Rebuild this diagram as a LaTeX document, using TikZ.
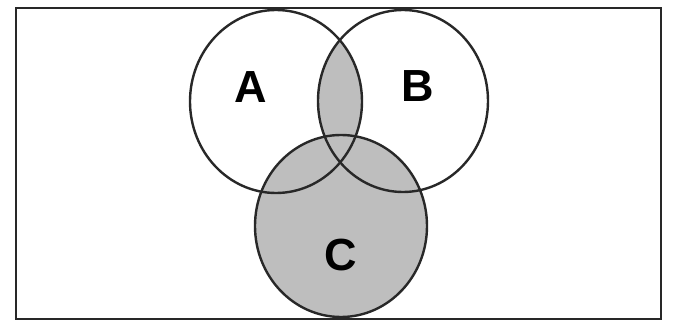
\documentclass[tikz,border=0pt]{standalone}
\usepackage{fontspec}
\setmainfont{Liberation Sans}
\definecolor{vennfill}{RGB}{190,190,190}
\definecolor{ink}{RGB}{40,40,40}
\begin{document}
\begin{tikzpicture}[x=1pt,y=-1pt,
  outline/.style={draw=ink,line width=2.4pt},
  frame/.style={draw=ink,line width=2.6pt},
  setlabel/.style={font=\fontsize{45}{45}\selectfont\bfseries,text=black,inner sep=0pt}]
\useasboundingbox (0,0) rectangle (673,323);
\fill[white] (0,0) rectangle (673,323);
% frame
\draw[frame] (16,8) rectangle (661,319);
% shading: C and A∩B
\fill[vennfill] (341,226) ellipse [x radius=86, y radius=91];
\begin{scope}
  \clip (276,101.5) ellipse [x radius=86, y radius=91.5];
  \fill[vennfill] (403,101) ellipse [x radius=85, y radius=91];
\end{scope}
% outlines
\draw[outline] (276,101.5) ellipse [x radius=86, y radius=91.5];
\draw[outline] (403,101) ellipse [x radius=85, y radius=91];
\draw[outline] (341,226) ellipse [x radius=86, y radius=91];
% labels
\node[setlabel] (A) at (251,87) {A};
\node[setlabel] (B) at (418,86) {B};
\node[setlabel] (C) at (341,255) {C};
\end{tikzpicture}
\end{document}
